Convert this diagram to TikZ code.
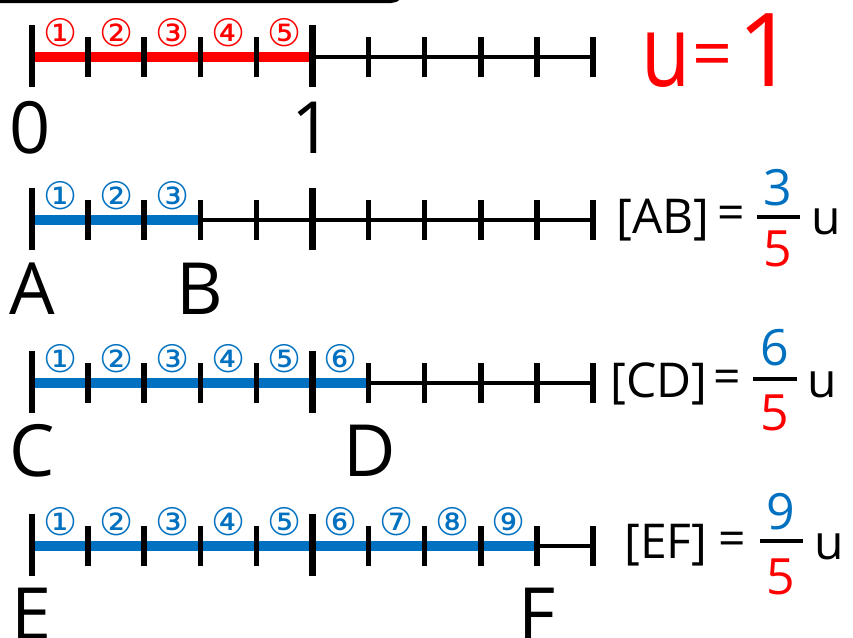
\documentclass[tikz,border=0pt]{standalone}
\usepackage{fontspec}
\setmainfont{Open Sans}
\newfontfamily\circfont{DejaVu Sans}
\definecolor{ured}{RGB}{255,0,0}
\definecolor{ublue}{RGB}{0,112,192}
\newcommand\circd[1]{\ifcase#1\or ①\or ②\or ③\or ④\or ⑤\or ⑥\or ⑦\or ⑧\or ⑨\fi}
\tikzset{
  axisline/.style={line width=4pt, black},
  seg/.style={line width=10pt},
  bigtick/.style={line width=6.5pt},
  smalltick/.style={line width=5.5pt},
  circnum/.style={font=\circfont\fontsize{38}{38}\selectfont, inner sep=0pt},
  pointlbl/.style={font=\fontsize{72}{72}\selectfont, inner sep=0pt},
  eqtxt/.style={font=\fontsize{48}{48}\selectfont, inner sep=0pt},
  fracnum/.style={font=\fontsize{50}{50}\selectfont, inner sep=0pt, text=ublue},
  fracden/.style={font=\fontsize{50}{50}\selectfont, inner sep=0pt, text=ured},
  fracbar/.style={line width=4pt},
  unittxt/.style={text=ured, inner sep=0pt},
}
\begin{document}
\begin{tikzpicture}[x=1pt,y=-1pt]
\useasboundingbox (0,0) rectangle (853,637);
\clip (0,0) rectangle (853,637);
\draw[line width=4pt, rounded corners=12pt] (-20,-80) rectangle (403,1);

\foreach \r/\n/\c in {0/5/ured,1/3/ublue,2/6/ublue,3/9/ublue}{
  \pgfmathsetmacro{\yy}{57+163*\r}
  \coordinate (L\r) at (32,\yy);
  \coordinate (R\r) at (593,\yy);
  \coordinate (S\r) at ({32+56.1*\n},\yy);
  \draw[axisline] (L\r) -- (R\r);
  \draw[seg,\c] (L\r) -- (S\r);
  \foreach \k in {1,2,3,4,6,7,8,9,10} {
    \draw[smalltick] ({32+56.1*\k},\yy-20) -- ++(0,40);
  }
  \foreach \k in {0,5} {
    \draw[bigtick] ({32+56.1*\k},\yy-32) -- ++(0,62);
  }
  \foreach \k in {1,...,\n} {
    \node[circnum,text=\c] (c\r-\k) at ({32+56.1*(\k-0.5)},\yy-24) {\circd{\k}};
  }
}

% point labels
\node[pointlbl] (zero) at (30,128) {0};
\node[pointlbl] (one) at (312,128) {1};
\node[pointlbl] (A) at (32,289) {A};
\node[pointlbl] (B) at (200,289) {B};
\node[pointlbl] (C) at (32,451) {C};
\node[pointlbl] (D) at (370,451) {D};
\node[pointlbl] (E) at (32,614) {E};
\node[pointlbl] (F) at (537,614) {F};

% unit
\node[unittxt, font=\fontsize{100}{100}\selectfont, xscale=0.8, transform shape] (uu) at (666,60) {u};
\node[unittxt, font=\fontsize{70}{70}\selectfont] (ueq) at (713,61) {=};
\node[unittxt, font=\fontsize{102}{102}\selectfont] (uone) at (767,50) {1};

% AB
\node[eqtxt] (ab) at (663,220) {[AB]};
\node[eqtxt] (eq1) at (731,218) {=};
\draw[fracbar] (757,217) -- (800,217);
\node[fracnum] (n1) at (778,188) {3};
\node[fracden] (d1) at (778,249) {5};
\node[eqtxt] (u1) at (826,222) {u};

% CD
\node[eqtxt] (cd) at (659,384) {[CD]};
\node[eqtxt] (eq2) at (727,382) {=};
\draw[fracbar] (753,379) -- (797,379);
\node[fracnum] (n2) at (775,348) {6};
\node[fracden] (d2) at (775,413) {5};
\node[eqtxt] (u2) at (822,385) {u};

% EF
\node[eqtxt] (ef) at (666,545) {[EF]};
\node[eqtxt] (eq3) at (732,544) {=};
\draw[fracbar] (760,541) -- (803,541);
\node[fracnum] (n3) at (781,512) {9};
\node[fracden] (d3) at (781,577) {5};
\node[eqtxt] (u3) at (829,547) {u};
\end{tikzpicture}
\end{document}
